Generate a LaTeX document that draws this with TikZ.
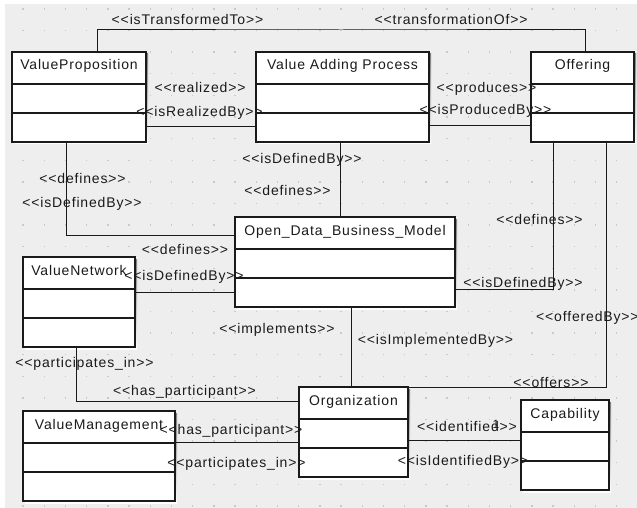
\documentclass[tikz,border=0pt]{standalone}
\usepackage{fontspec}
\setmainfont{Liberation Sans}[LetterSpace=6, Ligatures=TeXOff]
\definecolor{canvas}{HTML}{EEEEEE}
\definecolor{griddot}{HTML}{C9C9C9}
\definecolor{shade}{HTML}{8E8E8E}
\definecolor{ink}{HTML}{1A1A1A}
\tikzset{
  classbox/.style={draw=ink, line width=1.1pt, fill=white, inner sep=0pt, outer sep=0pt},
  classtitle/.style={anchor=base, inner sep=0pt, text=ink},
  rel/.style={draw=ink, line width=1pt},
  rellabel/.style={anchor=base, inner sep=0pt, text=ink},
}
% UML class: name, left, top, right, bottom, title
\newcommand\umlclass[6]{%
  \pgfmathsetmacro\cw{#4-#2}%
  \pgfmathsetmacro\ch{#5-#3}%
  \pgfmathsetmacro\cx{(#2+#4)/2}%
  \pgfmathsetmacro\cy{(#3+#5)/2}%
  \fill[shade] (#2+2,#3+2) rectangle (#4+2,#5+2);
  \node[classbox, minimum width=\cw pt, minimum height=\ch pt] (#1) at (\cx,\cy) {};
  \draw[ink, line width=1.1pt] (#2,#3+32) -- (#4,#3+32) (#2,#3+61) -- (#4,#3+61);
  \node[classtitle] (#1-title) at (\cx,#3+18) {#6};
}
\begin{document}
\begin{tikzpicture}[x=1pt, y=-1pt, font=\fontsize{14}{16}\selectfont]
\useasboundingbox (0,0) rectangle (637,508);
% canvas and dotted grid
\fill[canvas] (5,4) rectangle (637,508);
\foreach \i in {0,...,29}{
  \foreach \j in {0,...,23}{
    \fill[griddot] (23+21.2*\i-0.7, 9+21.6*\j-0.7) rectangle ++(1.4,1.4);
  }
}

% classes
\umlclass{vp}{12}{52}{146}{142}{ValueProposition}
\umlclass{vap}{256}{52}{429}{142}{Value Adding Process}
\umlclass{off}{531}{52}{634}{142}{Offering}
\umlclass{odbm}{235}{217}{455}{307}{Open\_Data\_Business\_Model}
\umlclass{vn}{23}{257}{135}{347}{ValueNetwork}
\umlclass{vm}{23}{411}{175}{501}{ValueManagement}
\umlclass{org}{299}{387}{408}{477}{Organization}
\umlclass{cap}{521}{400}{609}{490}{Capability}

% routing points
\coordinate (topbus) at (341,30);

% relations
\draw[rel] ([xshift=18pt]vp.north) |- (topbus) -| ([xshift=2.5pt]off.north);
\draw[rel] ([yshift=-30pt]vp.east) -- ([yshift=-30pt]vap.west);
\draw[rel] ([yshift=-29pt]vap.east) -- ([yshift=-29pt]off.west);
\draw[rel] ([xshift=-13pt]vp.south) |- ([yshift=27pt]odbm.west);
\draw[rel] ([xshift=-2.5pt]vap.south) -- ([xshift=-5pt]odbm.north);
\draw[rel] ([xshift=-29.5pt]off.south) |- ([yshift=-27pt]odbm.east);
\draw[rel] ([yshift=10pt]vn.east) -- ([yshift=-30pt]odbm.west);
\draw[rel] ([xshift=6pt]odbm.south) -- ([xshift=-2.5pt]org.north);
\draw[rel] ([xshift=23.5pt]off.south) |- (org.north east);
\draw[rel] ([xshift=-3pt]vn.south) |- ([yshift=31pt]org.west);
\draw[rel] ([yshift=14pt]vm.east) -- ([yshift=-10pt]org.west);
\draw[rel] ([yshift=-8pt]org.east) -- ([yshift=5pt]cap.west);

% relation labels
\node[rellabel] (l-transTo) at (187.5,25) {<<isTransformedTo>>};
\node[rellabel] (l-transOf) at (451,25) {<<transformationOf>>};
\node[rellabel] (l-realized) at (200,93) {<<realized>>};
\node[rellabel] (l-realizedBy) at (199.5,117) {<<isRealizedBy>>};
\node[rellabel] (l-produces) at (486.5,93) {<<produces>>};
\node[rellabel] (l-producedBy) at (485.5,115) {<<isProducedBy>>};
\node[rellabel] (l-vp-def) at (82.5,183) {<<defines>>};
\node[rellabel] (l-vp-defBy) at (82,207) {<<isDefinedBy>>};
\node[rellabel] (l-vap-defBy) at (302,163) {<<isDefinedBy>>};
\node[rellabel] (l-vap-def) at (287.5,195) {<<defines>>};
\node[rellabel] (l-vn-def) at (185,254) {<<defines>>};
\node[rellabel] (l-vn-defBy) at (184,280) {<<isDefinedBy>>};
\node[rellabel] (l-off-def) at (539.5,224) {<<defines>>};
\node[rellabel] (l-off-defBy) at (523,287) {<<isDefinedBy>>};
\node[rellabel, anchor=base west] (l-offeredBy) at (536,321.5) {<<offeredBy>>};
\node[rellabel] (l-implements) at (277,333) {<<implements>>};
\node[rellabel] (l-implBy) at (435.5,344) {<<isImplementedBy>>};
\node[rellabel] (l-offers) at (551,387) {<<offers>>};
\node[rellabel] (l-vn-part) at (84.5,367) {<<participates\_in>>};
\node[rellabel] (l-vn-has) at (184.5,395.5) {<<has\_participant>>};
\node[rellabel] (l-vm-has) at (231,434) {<<has\_participant>>};
\node[rellabel] (l-vm-part) at (236.5,467.5) {<<participates\_in>>};
\node[rellabel] (l-identified) at (467,431.5) {<<identified>>};
\node[rellabel, font=\fontsize{12}{14}\selectfont] (l-mult) at (496,428) {1};
\node[rellabel] (l-identBy) at (463,465) {<<isIdentifiedBy>>};
\end{tikzpicture}
\end{document}
